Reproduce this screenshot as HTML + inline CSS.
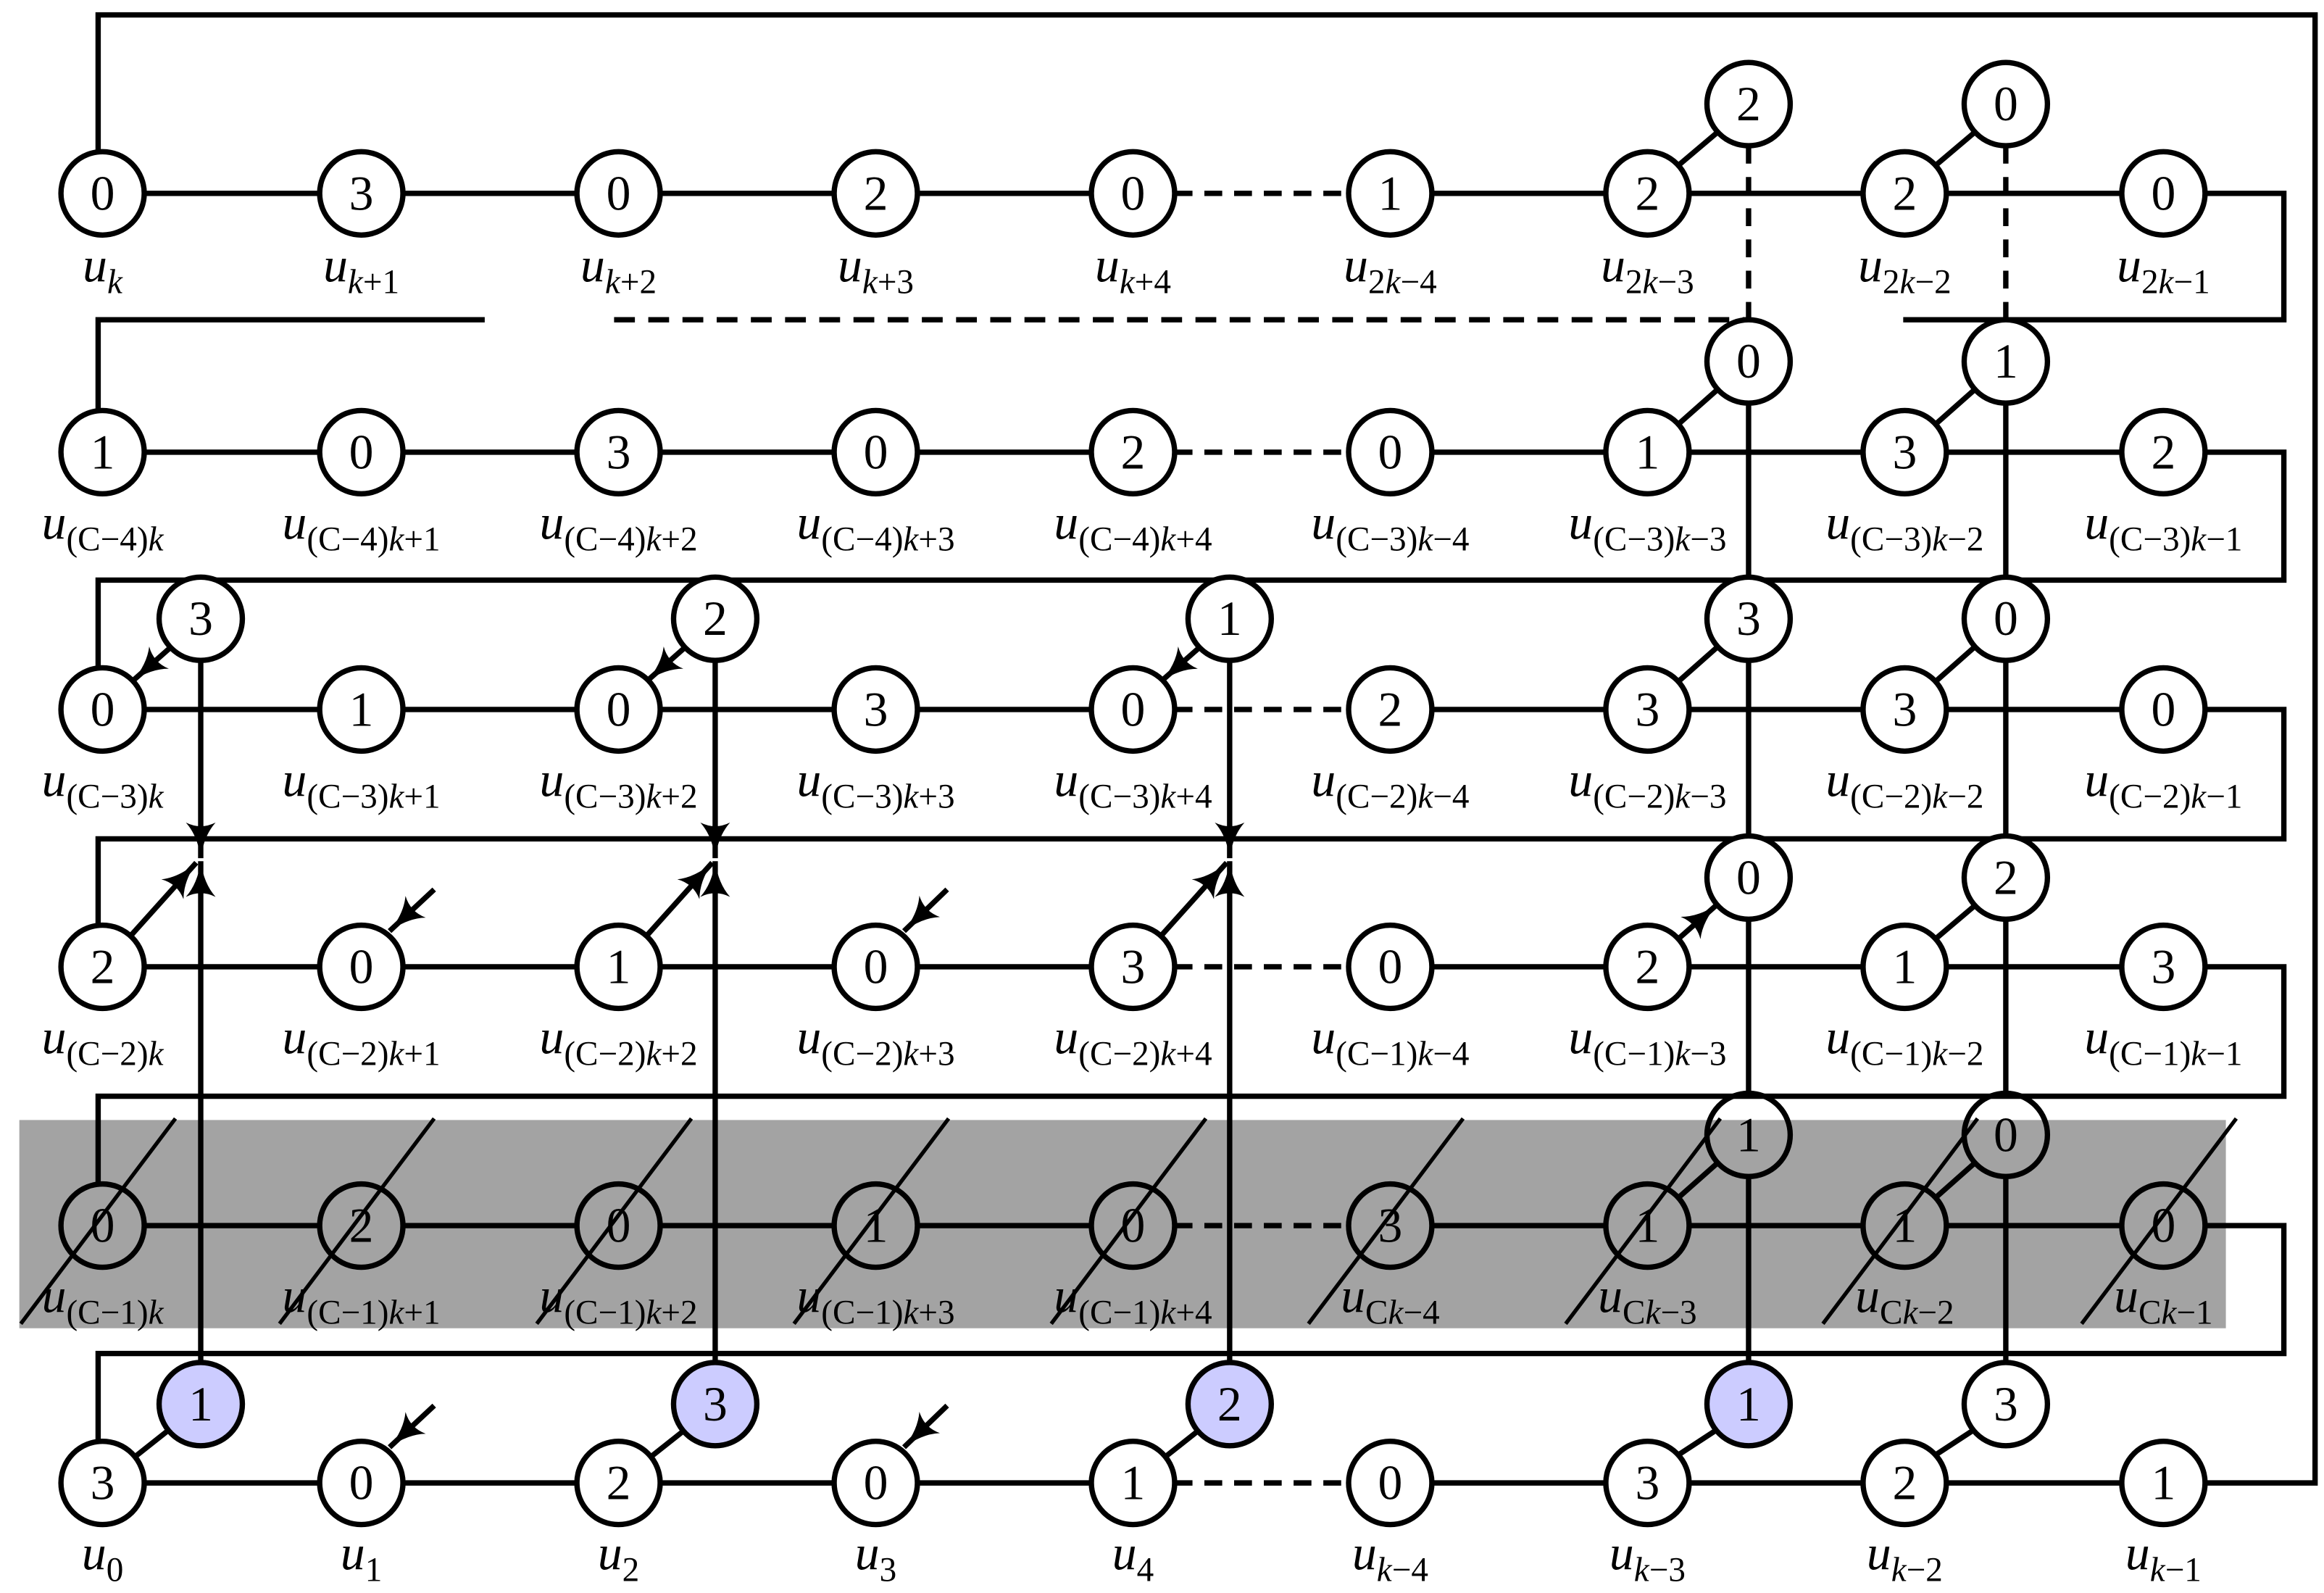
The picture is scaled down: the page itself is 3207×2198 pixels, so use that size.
<!DOCTYPE html>
<html><head><meta charset="utf-8"><style>
html,body{margin:0;padding:0;background:#fff}
svg{display:block}
.n{font-family:"Liberation Serif",serif;font-size:33px;text-anchor:middle;dominant-baseline:central}
.lb{font-family:"Liberation Serif",serif;text-anchor:middle}
.u{font-style:italic;font-size:33px}
.s{font-size:23px}
.k{font-style:italic}
</style></head><body>
<svg width="3207" height="2198" viewBox="0 0 1563 1071" preserveAspectRatio="none" xmlns="http://www.w3.org/2000/svg">
<defs>
<marker id="ah" markerUnits="userSpaceOnUse" markerWidth="30" markerHeight="24" refX="24" refY="10" orient="auto">
<path d="M0,0 Q9,8 24,10 Q9,12 0,20 Q5,10 0,0z" fill="#000"/>
</marker>
</defs>
<rect x="13" y="753" width="1484" height="140" fill="#a3a3a3"/>
<g stroke="#000" stroke-width="3.6" fill="none">
<g transform="translate(0,130)"><path d="M97 0H215M271 0H388M444 0H561M617 0H734M963 0H1080M1136 0H1253M1309 0H1427"/><path d="M790 0H907" stroke-dasharray="12 8"/></g>
<g transform="translate(0,304)"><path d="M97 0H215M271 0H388M444 0H561M617 0H734M963 0H1080M1136 0H1253M1309 0H1427"/><path d="M790 0H907" stroke-dasharray="12 8"/></g>
<g transform="translate(0,477)"><path d="M97 0H215M271 0H388M444 0H561M617 0H734M963 0H1080M1136 0H1253M1309 0H1427"/><path d="M790 0H907" stroke-dasharray="12 8"/></g>
<g transform="translate(0,650)"><path d="M97 0H215M271 0H388M444 0H561M617 0H734M963 0H1080M1136 0H1253M1309 0H1427"/><path d="M790 0H907" stroke-dasharray="12 8"/></g>
<g transform="translate(0,824)"><path d="M97 0H215M271 0H388M444 0H561M617 0H734M963 0H1080M1136 0H1253M1309 0H1427"/><path d="M790 0H907" stroke-dasharray="12 8"/></g>
<g transform="translate(0,997)"><path d="M97 0H215M271 0H388M444 0H561M617 0H734M963 0H1080M1136 0H1253M1309 0H1427"/><path d="M790 0H907" stroke-dasharray="12 8"/></g>
<path d="M1483 997H1557V10H66V102"/>
<path d="M1483 130H1536V215H1280"/>
<path d="M413 215H1176" stroke-dasharray="14 9"/>
<path d="M326 215H66V276"/>
<path d="M1483 304H1536V390H66V449"/>
<path d="M1483 477H1536V564H66V622"/>
<path d="M1483 650H1536V737H66V796"/>
<path d="M1483 824H1536V910H66V969"/>
<path d="M1176 98V215M1349 98V215" stroke-dasharray="12 9"/>
<path d="M1176 271V388M1176 444V562M1176 618V735M1176 791V916"/>
<path d="M1349 271V388M1349 444V562M1349 618V735M1349 791V916"/>
<path d="M1129 111L1155 89M1302 111L1328 89"/>
<path d="M1129 285L1155 262M1302 285L1328 262"/>
<path d="M1129 458L1155 435M1302 458L1328 435"/>
<path d="M1302 631L1328 609"/>
<path d="M1129 805L1155 782M1302 805L1328 782"/>
<path d="M1129 978L1155 961M1302 978L1328 961"/>
<path d="M90 980L114 961M437 980L461 961M783 980L807 961"/>
<g marker-end="url(#ah)">
<path d="M115 435L89 458"/><path d="M461 435L435 458"/><path d="M807 435L781 458"/>
<path d="M135 444V577"/><path d="M481 444V577"/><path d="M827 444V577"/>
<path d="M135 916V579"/><path d="M481 916V579"/><path d="M827 916V579"/>
<path d="M88 629L132 580"/><path d="M435 629L479 580"/><path d="M781 629L825 580"/>
<path d="M292 598L262 626"/><path d="M637 598L608 626"/>
<path d="M292 945L262 973"/><path d="M637 945L608 973"/>
<path d="M1129 631L1155 608"/>
</g>
</g>
<g stroke="#000" stroke-width="3.6" fill="#fff">
<circle cx="69" cy="130" r="28"/><circle cx="243" cy="130" r="28"/><circle cx="416" cy="130" r="28"/><circle cx="589" cy="130" r="28"/><circle cx="762" cy="130" r="28"/><circle cx="935" cy="130" r="28"/><circle cx="1108" cy="130" r="28"/><circle cx="1281" cy="130" r="28"/><circle cx="1455" cy="130" r="28"/>
<circle cx="69" cy="304" r="28"/><circle cx="243" cy="304" r="28"/><circle cx="416" cy="304" r="28"/><circle cx="589" cy="304" r="28"/><circle cx="762" cy="304" r="28"/><circle cx="935" cy="304" r="28"/><circle cx="1108" cy="304" r="28"/><circle cx="1281" cy="304" r="28"/><circle cx="1455" cy="304" r="28"/>
<circle cx="69" cy="477" r="28"/><circle cx="243" cy="477" r="28"/><circle cx="416" cy="477" r="28"/><circle cx="589" cy="477" r="28"/><circle cx="762" cy="477" r="28"/><circle cx="935" cy="477" r="28"/><circle cx="1108" cy="477" r="28"/><circle cx="1281" cy="477" r="28"/><circle cx="1455" cy="477" r="28"/>
<circle cx="69" cy="650" r="28"/><circle cx="243" cy="650" r="28"/><circle cx="416" cy="650" r="28"/><circle cx="589" cy="650" r="28"/><circle cx="762" cy="650" r="28"/><circle cx="935" cy="650" r="28"/><circle cx="1108" cy="650" r="28"/><circle cx="1281" cy="650" r="28"/><circle cx="1455" cy="650" r="28"/>
<circle cx="69" cy="997" r="28"/><circle cx="243" cy="997" r="28"/><circle cx="416" cy="997" r="28"/><circle cx="589" cy="997" r="28"/><circle cx="762" cy="997" r="28"/><circle cx="935" cy="997" r="28"/><circle cx="1108" cy="997" r="28"/><circle cx="1281" cy="997" r="28"/><circle cx="1455" cy="997" r="28"/>
<circle cx="1176" cy="70" r="28"/><circle cx="1349" cy="70" r="28"/>
<circle cx="1176" cy="243" r="28"/><circle cx="1349" cy="243" r="28"/>
<circle cx="1176" cy="416" r="28"/><circle cx="1349" cy="416" r="28"/>
<circle cx="1176" cy="590" r="28"/><circle cx="1349" cy="590" r="28"/>
<circle cx="135" cy="416" r="28"/><circle cx="481" cy="416" r="28"/><circle cx="827" cy="416" r="28"/>
<circle cx="1349" cy="944" r="28"/>
</g>
<g stroke="#000" stroke-width="3.6" fill="#ccccff">
<circle cx="135" cy="944" r="28"/><circle cx="481" cy="944" r="28"/><circle cx="827" cy="944" r="28"/><circle cx="1176" cy="944" r="28"/>
</g>
<g stroke="#000" stroke-width="3.6" fill="none">
<circle cx="69" cy="824" r="28"/><circle cx="243" cy="824" r="28"/><circle cx="416" cy="824" r="28"/><circle cx="589" cy="824" r="28"/><circle cx="762" cy="824" r="28"/><circle cx="935" cy="824" r="28"/><circle cx="1108" cy="824" r="28"/><circle cx="1281" cy="824" r="28"/><circle cx="1455" cy="824" r="28"/>
<circle cx="1176" cy="763" r="28"/><circle cx="1349" cy="763" r="28"/>
</g>
<g class="n">
<text x="69" y="130">0</text><text x="243" y="130">3</text><text x="416" y="130">0</text><text x="589" y="130">2</text><text x="762" y="130">0</text><text x="935" y="130">1</text><text x="1108" y="130">2</text><text x="1281" y="130">2</text><text x="1455" y="130">0</text>
<text x="69" y="304">1</text><text x="243" y="304">0</text><text x="416" y="304">3</text><text x="589" y="304">0</text><text x="762" y="304">2</text><text x="935" y="304">0</text><text x="1108" y="304">1</text><text x="1281" y="304">3</text><text x="1455" y="304">2</text>
<text x="69" y="477">0</text><text x="243" y="477">1</text><text x="416" y="477">0</text><text x="589" y="477">3</text><text x="762" y="477">0</text><text x="935" y="477">2</text><text x="1108" y="477">3</text><text x="1281" y="477">3</text><text x="1455" y="477">0</text>
<text x="69" y="650">2</text><text x="243" y="650">0</text><text x="416" y="650">1</text><text x="589" y="650">0</text><text x="762" y="650">3</text><text x="935" y="650">0</text><text x="1108" y="650">2</text><text x="1281" y="650">1</text><text x="1455" y="650">3</text>
<text x="69" y="824">0</text><text x="243" y="824">2</text><text x="416" y="824">0</text><text x="589" y="824">1</text><text x="762" y="824">0</text><text x="935" y="824">3</text><text x="1108" y="824">1</text><text x="1281" y="824">1</text><text x="1455" y="824">0</text>
<text x="69" y="997">3</text><text x="243" y="997">0</text><text x="416" y="997">2</text><text x="589" y="997">0</text><text x="762" y="997">1</text><text x="935" y="997">0</text><text x="1108" y="997">3</text><text x="1281" y="997">2</text><text x="1455" y="997">1</text>
<text x="1176" y="70">2</text><text x="1349" y="70">0</text>
<text x="1176" y="243">0</text><text x="1349" y="243">1</text>
<text x="1176" y="416">3</text><text x="1349" y="416">0</text>
<text x="1176" y="590">0</text><text x="1349" y="590">2</text>
<text x="1176" y="763">1</text><text x="1349" y="763">0</text>
<text x="1176" y="944">1</text><text x="1349" y="944">3</text>
<text x="135" y="416">3</text><text x="481" y="416">2</text><text x="827" y="416">1</text>
<text x="135" y="944">1</text><text x="481" y="944">3</text><text x="827" y="944">2</text>
</g>
<g class="lb">
<text x="69" y="189"><tspan class="u">u</tspan><tspan class="s k" dy="8">k</tspan></text>
<text x="243" y="189"><tspan class="u">u</tspan><tspan class="s" dy="8"><tspan class="k">k</tspan>+1</tspan></text>
<text x="416" y="189"><tspan class="u">u</tspan><tspan class="s" dy="8"><tspan class="k">k</tspan>+2</tspan></text>
<text x="589" y="189"><tspan class="u">u</tspan><tspan class="s" dy="8"><tspan class="k">k</tspan>+3</tspan></text>
<text x="762" y="189"><tspan class="u">u</tspan><tspan class="s" dy="8"><tspan class="k">k</tspan>+4</tspan></text>
<text x="935" y="189"><tspan class="u">u</tspan><tspan class="s" dy="8">2<tspan class="k">k</tspan>−4</tspan></text>
<text x="1108" y="189"><tspan class="u">u</tspan><tspan class="s" dy="8">2<tspan class="k">k</tspan>−3</tspan></text>
<text x="1281" y="189"><tspan class="u">u</tspan><tspan class="s" dy="8">2<tspan class="k">k</tspan>−2</tspan></text>
<text x="1455" y="189"><tspan class="u">u</tspan><tspan class="s" dy="8">2<tspan class="k">k</tspan>−1</tspan></text>

<text x="69" y="362"><tspan class="u">u</tspan><tspan class="s" dy="8">(C−4)<tspan class="k">k</tspan></tspan></text>
<text x="243" y="362"><tspan class="u">u</tspan><tspan class="s" dy="8">(C−4)<tspan class="k">k</tspan>+1</tspan></text>
<text x="416" y="362"><tspan class="u">u</tspan><tspan class="s" dy="8">(C−4)<tspan class="k">k</tspan>+2</tspan></text>
<text x="589" y="362"><tspan class="u">u</tspan><tspan class="s" dy="8">(C−4)<tspan class="k">k</tspan>+3</tspan></text>
<text x="762" y="362"><tspan class="u">u</tspan><tspan class="s" dy="8">(C−4)<tspan class="k">k</tspan>+4</tspan></text>
<text x="935" y="362"><tspan class="u">u</tspan><tspan class="s" dy="8">(C−3)<tspan class="k">k</tspan>−4</tspan></text>
<text x="1108" y="362"><tspan class="u">u</tspan><tspan class="s" dy="8">(C−3)<tspan class="k">k</tspan>−3</tspan></text>
<text x="1281" y="362"><tspan class="u">u</tspan><tspan class="s" dy="8">(C−3)<tspan class="k">k</tspan>−2</tspan></text>
<text x="1455" y="362"><tspan class="u">u</tspan><tspan class="s" dy="8">(C−3)<tspan class="k">k</tspan>−1</tspan></text>

<text x="69" y="535"><tspan class="u">u</tspan><tspan class="s" dy="8">(C−3)<tspan class="k">k</tspan></tspan></text>
<text x="243" y="535"><tspan class="u">u</tspan><tspan class="s" dy="8">(C−3)<tspan class="k">k</tspan>+1</tspan></text>
<text x="416" y="535"><tspan class="u">u</tspan><tspan class="s" dy="8">(C−3)<tspan class="k">k</tspan>+2</tspan></text>
<text x="589" y="535"><tspan class="u">u</tspan><tspan class="s" dy="8">(C−3)<tspan class="k">k</tspan>+3</tspan></text>
<text x="762" y="535"><tspan class="u">u</tspan><tspan class="s" dy="8">(C−3)<tspan class="k">k</tspan>+4</tspan></text>
<text x="935" y="535"><tspan class="u">u</tspan><tspan class="s" dy="8">(C−2)<tspan class="k">k</tspan>−4</tspan></text>
<text x="1108" y="535"><tspan class="u">u</tspan><tspan class="s" dy="8">(C−2)<tspan class="k">k</tspan>−3</tspan></text>
<text x="1281" y="535"><tspan class="u">u</tspan><tspan class="s" dy="8">(C−2)<tspan class="k">k</tspan>−2</tspan></text>
<text x="1455" y="535"><tspan class="u">u</tspan><tspan class="s" dy="8">(C−2)<tspan class="k">k</tspan>−1</tspan></text>

<text x="69" y="708"><tspan class="u">u</tspan><tspan class="s" dy="8">(C−2)<tspan class="k">k</tspan></tspan></text>
<text x="243" y="708"><tspan class="u">u</tspan><tspan class="s" dy="8">(C−2)<tspan class="k">k</tspan>+1</tspan></text>
<text x="416" y="708"><tspan class="u">u</tspan><tspan class="s" dy="8">(C−2)<tspan class="k">k</tspan>+2</tspan></text>
<text x="589" y="708"><tspan class="u">u</tspan><tspan class="s" dy="8">(C−2)<tspan class="k">k</tspan>+3</tspan></text>
<text x="762" y="708"><tspan class="u">u</tspan><tspan class="s" dy="8">(C−2)<tspan class="k">k</tspan>+4</tspan></text>
<text x="935" y="708"><tspan class="u">u</tspan><tspan class="s" dy="8">(C−1)<tspan class="k">k</tspan>−4</tspan></text>
<text x="1108" y="708"><tspan class="u">u</tspan><tspan class="s" dy="8">(C−1)<tspan class="k">k</tspan>−3</tspan></text>
<text x="1281" y="708"><tspan class="u">u</tspan><tspan class="s" dy="8">(C−1)<tspan class="k">k</tspan>−2</tspan></text>
<text x="1455" y="708"><tspan class="u">u</tspan><tspan class="s" dy="8">(C−1)<tspan class="k">k</tspan>−1</tspan></text>

<text x="69" y="882"><tspan class="u">u</tspan><tspan class="s" dy="8">(C−1)<tspan class="k">k</tspan></tspan></text>
<text x="243" y="882"><tspan class="u">u</tspan><tspan class="s" dy="8">(C−1)<tspan class="k">k</tspan>+1</tspan></text>
<text x="416" y="882"><tspan class="u">u</tspan><tspan class="s" dy="8">(C−1)<tspan class="k">k</tspan>+2</tspan></text>
<text x="589" y="882"><tspan class="u">u</tspan><tspan class="s" dy="8">(C−1)<tspan class="k">k</tspan>+3</tspan></text>
<text x="762" y="882"><tspan class="u">u</tspan><tspan class="s" dy="8">(C−1)<tspan class="k">k</tspan>+4</tspan></text>
<text x="935" y="882"><tspan class="u">u</tspan><tspan class="s" dy="8">C<tspan class="k">k</tspan>−4</tspan></text>
<text x="1108" y="882"><tspan class="u">u</tspan><tspan class="s" dy="8">C<tspan class="k">k</tspan>−3</tspan></text>
<text x="1281" y="882"><tspan class="u">u</tspan><tspan class="s" dy="8">C<tspan class="k">k</tspan>−2</tspan></text>
<text x="1455" y="882"><tspan class="u">u</tspan><tspan class="s" dy="8">C<tspan class="k">k</tspan>−1</tspan></text>

<text x="69" y="1055"><tspan class="u">u</tspan><tspan class="s" dy="8">0</tspan></text>
<text x="243" y="1055"><tspan class="u">u</tspan><tspan class="s" dy="8">1</tspan></text>
<text x="416" y="1055"><tspan class="u">u</tspan><tspan class="s" dy="8">2</tspan></text>
<text x="589" y="1055"><tspan class="u">u</tspan><tspan class="s" dy="8">3</tspan></text>
<text x="762" y="1055"><tspan class="u">u</tspan><tspan class="s" dy="8">4</tspan></text>
<text x="935" y="1055"><tspan class="u">u</tspan><tspan class="s" dy="8"><tspan class="k">k</tspan>−4</tspan></text>
<text x="1108" y="1055"><tspan class="u">u</tspan><tspan class="s" dy="8"><tspan class="k">k</tspan>−3</tspan></text>
<text x="1281" y="1055"><tspan class="u">u</tspan><tspan class="s" dy="8"><tspan class="k">k</tspan>−2</tspan></text>
<text x="1455" y="1055"><tspan class="u">u</tspan><tspan class="s" dy="8"><tspan class="k">k</tspan>−1</tspan></text>
</g>
<g stroke="#000" stroke-width="2.6">
<path d="M14 890L118 752M188 890L292 752M361 890L465 752M534 890L638 752M707 890L811 752M880 890L984 752M1053 890L1157 752M1226 890L1330 752M1400 890L1504 752"/>
</g>
</svg>
</body></html>
